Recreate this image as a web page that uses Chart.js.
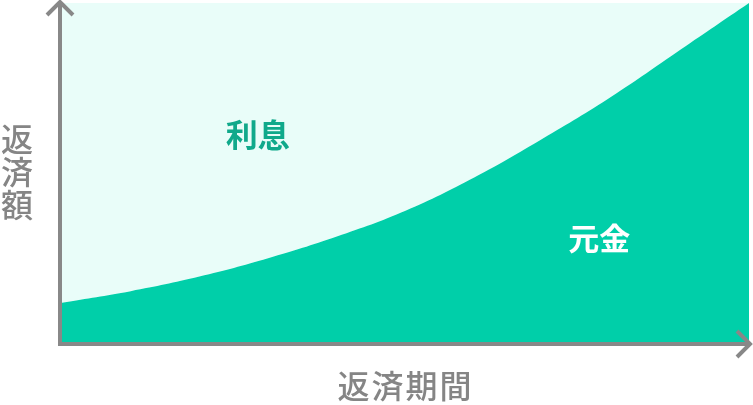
<!DOCTYPE html>
<html>
<head>
<meta charset="utf-8">
<script src="https://cdn.jsdelivr.net/npm/chart.js@4/dist/chart.umd.min.js"></script>
<style>
html,body{margin:0;padding:0;background:#fff;}
#wrap{width:753px;height:405px;}
</style>
</head>
<body>
<div id="wrap"><canvas id="c" width="753" height="405"></canvas></div>
<script>
// period (relative, 0-100) and repayment share values
const periods = [0, 10, 20, 30, 40, 50, 60, 70, 80, 90, 100];
const principal = [11.6, 15.0, 19.3, 24.7, 31.1, 38.7, 48.5, 60.0, 72.4, 86.2, 100];
const labelInterest = '利息';
const labelPrincipal = '元金';
const xTitle = '返済期間';
const yTitle = '返済額';

const GREEN = '#00cfa9';
const LIGHT = '#e9fdf9';
const GRAY = '#858585';
const FONT = '"Noto Sans CJK JP", "Noto Sans", sans-serif';

const pts = periods.map((p, i) => ({x: p, y: principal[i]}));

const decor = {
  id: 'decor',
  afterDraw(chart) {
    const ctx = chart.ctx;
    const xs = chart.scales.x, ys = chart.scales.y;
    const x0 = xs.getPixelForValue(0) - 2;
    const y0 = ys.getPixelForValue(0) + 2;
    const xEnd = xs.getPixelForValue(100);
    const yTop = ys.getPixelForValue(100);
    ctx.save();
    ctx.strokeStyle = '#888888';
    ctx.lineWidth = 4;
    ctx.lineCap = 'butt';
    // axes
    ctx.beginPath();
    ctx.moveTo(x0, y0 + 2);
    ctx.lineTo(x0, yTop - 1);
    ctx.moveTo(x0 - 2, y0);
    ctx.lineTo(xEnd + 1, y0);
    ctx.stroke();
    // arrows
    ctx.lineJoin = 'miter';
    ctx.beginPath();
    ctx.moveTo(x0 - 13, yTop + 12);
    ctx.lineTo(x0, yTop - 1);
    ctx.lineTo(x0 + 13, yTop + 12);
    ctx.moveTo(xEnd - 12, y0 - 13);
    ctx.lineTo(xEnd + 1, y0);
    ctx.lineTo(xEnd - 12, y0 + 13);
    ctx.stroke();

    // area labels
    ctx.textAlign = 'center';
    ctx.textBaseline = 'middle';
    ctx.font = 'bold 32px ' + FONT;
    ctx.fillStyle = '#10a98b';
    ctx.fillText(labelInterest, xs.getPixelForValue(28.5), ys.getPixelForValue(61));
    ctx.font = 'bold 31px ' + FONT;
    ctx.fillStyle = '#ffffff';
    ctx.fillText(labelPrincipal, xs.getPixelForValue(78.2), ys.getPixelForValue(30.7));

    // axis titles
    ctx.fillStyle = GRAY;
    ctx.font = '500 32px ' + FONT;
    ctx.letterSpacing = '2px';
    ctx.fillText(xTitle, (x0 + xEnd) / 2 + 1, y0 + 42);
    ctx.letterSpacing = '0px';
    const chars = Array.from(yTitle);
    const cy = 172;
    chars.forEach((ch, i) => {
      ctx.fillText(ch, 17, cy + (i - 1) * 33);
    });
    ctx.restore();
  }
};

new Chart(document.getElementById('c'), {
  type: 'line',
  data: {
    datasets: [
      {
        data: pts,
        borderWidth: 0,
        pointRadius: 0,
        backgroundColor: GREEN,
        borderColor: GREEN,
        fill: 'start',
        tension: 0.4
      },
      {
        data: pts,
        borderWidth: 0,
        pointRadius: 0,
        backgroundColor: LIGHT,
        borderColor: LIGHT,
        fill: 'end',
        tension: 0.4
      }
    ]
  },
  options: {
    responsive: false,
    animation: false,
    devicePixelRatio: 1,
    layout: {padding: {left: 62, right: 4, top: 3, bottom: 63}},
    plugins: {legend: {display: false}, tooltip: {enabled: false}},
    scales: {
      x: {type: 'linear', min: 0, max: 100, display: false},
      y: {min: 0, max: 100, display: false}
    }
  },
  plugins: [decor]
});
</script>
</body>
</html>
